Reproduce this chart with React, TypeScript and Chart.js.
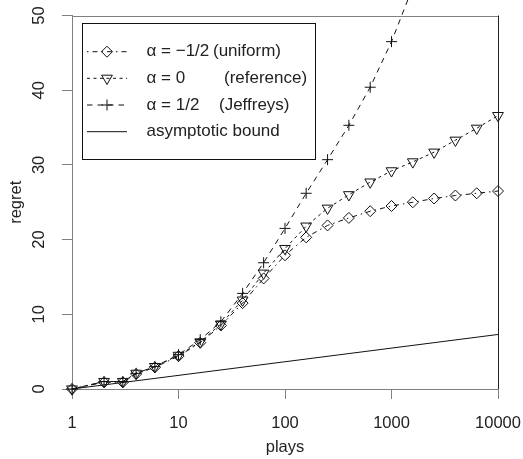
import React, { useEffect, useRef } from 'react';
import { Chart, registerables } from 'chart.js';

Chart.register(...registerables);

const plays = [1, 2, 3, 4, 6, 10, 16, 25, 40, 63, 100, 158, 251, 398, 631, 1000, 1585, 2512, 3981, 6310, 10000];
const regretUniform = [0, 0.9, 0.9, 2.0, 2.9, 4.4, 6.2, 8.5, 11.5, 14.8, 17.9, 20.3, 21.9, 22.9, 23.8, 24.5, 25.0, 25.5, 25.9, 26.2, 26.5];
const regretReference = [0, 1.0, 1.0, 2.1, 3.0, 4.5, 6.3, 8.7, 11.9, 15.5, 18.8, 21.8, 24.2, 26.0, 27.7, 29.2, 30.4, 31.7, 33.3, 34.9, 36.6];
const regretJeffreys = [0, 1.0, 1.0, 2.1, 3.0, 4.6, 6.6, 9.0, 12.8, 16.9, 21.5, 26.2, 30.7, 35.3, 40.4, 46.5, 53.8, 61.5, 69.5, 78.0, 86.0];
const boundPlays = [1, 10000];
const boundRegret = [0, 7.3];

const xTicks = [1, 10, 100, 1000, 10000];
const xTickLabels = ['1', '10', '100', '1000', '10000'];
const yTicks = [0, 10, 20, 30, 40, 50];
const yTickLabels = ['0', '10', '20', '30', '40', '50'];

const legendExpr = ['α = −1/2', 'α = 0', 'α = 1/2', 'asymptotic bound'];
const legendNote = ['(uniform)', '(reference)', '(Jeffreys)', ''];

const FONT = '"Liberation Sans", Arial, Helvetica, sans-serif';
const AXIS_GRAY = '#808080';
const TEXT = '#222';
const INK = '#111';

const DASH_UNIFORM = [1.5, 4, 5, 4];
const DASH_REFERENCE = [3, 3.5];
const DASH_JEFFREYS = [5.5, 5];

function drawMarker(ctx: CanvasRenderingContext2D, kind: string, x: number, y: number) {
  ctx.beginPath();
  if (kind === 'diamond') {
    const r = 5.5;
    ctx.moveTo(x - r, y);
    ctx.lineTo(x, y - r);
    ctx.lineTo(x + r, y);
    ctx.lineTo(x, y + r);
    ctx.closePath();
  } else if (kind === 'tri') {
    const r = 6.2;
    ctx.moveTo(x, y + r);
    ctx.lineTo(x + r * Math.sin(Math.PI * 2 / 3), y - r / 2);
    ctx.lineTo(x - r * Math.sin(Math.PI * 2 / 3), y - r / 2);
    ctx.closePath();
  } else if (kind === 'plus') {
    const r = 5.5;
    ctx.moveTo(x - r, y);
    ctx.lineTo(x + r, y);
    ctx.moveTo(x, y - r);
    ctx.lineTo(x, y + r);
  }
  ctx.stroke();
}

const decorPlugin = {
  id: 'decor',
  afterDraw(chart: any) {
    const ctx: CanvasRenderingContext2D = chart.ctx;
    const { left, right, top, bottom } = chart.chartArea;
    const xs = chart.scales.x;
    const ys = chart.scales.y;
    ctx.save();
    ctx.setLineDash([]);
    ctx.lineWidth = 1;
    // box top (gray) and right (dark)
    ctx.strokeStyle = AXIS_GRAY;
    ctx.beginPath();
    ctx.moveTo(left, Math.round(top) + 0.5);
    ctx.lineTo(right, Math.round(top) + 0.5);
    ctx.stroke();
    ctx.strokeStyle = '#222';
    ctx.beginPath();
    ctx.moveTo(Math.round(right) + 0.5, top);
    ctx.lineTo(Math.round(right) + 0.5, bottom);
    ctx.stroke();

    // tick labels
    ctx.fillStyle = TEXT;
    ctx.font = `16.5px ${FONT}`;
    ctx.textAlign = 'center';
    ctx.textBaseline = 'middle';
    xTicks.forEach((v, i) => {
      ctx.fillText(xTickLabels[i], xs.getPixelForValue(v), 423);
    });
    yTicks.forEach((v, i) => {
      ctx.save();
      ctx.translate(39, ys.getPixelForValue(v));
      ctx.rotate(-Math.PI / 2);
      ctx.fillText(yTickLabels[i], 0, 0);
      ctx.restore();
    });
    // axis titles
    ctx.fillText('plays', (left + right) / 2, 447);
    ctx.save();
    ctx.translate(16, (top + bottom) / 2);
    ctx.rotate(-Math.PI / 2);
    ctx.fillText('regret', 0, 0);
    ctx.restore();

    // legend
    const bx = 82.5, by = 23.5, bw = 233, bh = 136;
    ctx.fillStyle = '#fff';
    ctx.fillRect(bx, by, bw, bh);
    ctx.strokeStyle = '#111';
    ctx.strokeRect(bx, by, bw, bh);
    ctx.font = `17px ${FONT}`;
    const rows = [51.7, 78.3, 105, 131.7];
    const dashes = [DASH_UNIFORM, DASH_REFERENCE, DASH_JEFFREYS, []];
    const markers = ['diamond', 'tri', 'plus', ''];
    const noteX = [213, 224, 219, 0];
    rows.forEach((ry, i) => {
      ctx.strokeStyle = INK;
      ctx.setLineDash(dashes[i]);
      ctx.beginPath();
      ctx.moveTo(87, ry);
      ctx.lineTo(127, ry);
      ctx.stroke();
      ctx.setLineDash([]);
      if (markers[i]) drawMarker(ctx, markers[i], 107, ry);
      ctx.fillStyle = TEXT;
      ctx.textAlign = 'left';
      ctx.fillText(legendExpr[i], 146.5, ry);
      if (legendNote[i]) ctx.fillText(legendNote[i], noteX[i], ry);
    });
    ctx.restore();
  },
};

export default function App() {
  const ref = useRef<HTMLCanvasElement>(null);
  useEffect(() => {
    document.body.style.margin = '0';
    const toXY = (xsArr: number[], ysArr: number[]) => xsArr.map((x, i) => ({ x, y: ysArr[i] }));
    const gridOpts = {
      display: true,
      drawOnChartArea: false,
      drawTicks: true,
      tickLength: 10,
      color: AXIS_GRAY,
      lineWidth: 1,
    };
    const chart = new Chart(ref.current as HTMLCanvasElement, {
      type: 'line',
      data: {
        datasets: [
          {
            label: 'bound',
            data: toXY(boundPlays, boundRegret),
            borderColor: INK,
            borderWidth: 1,
            pointRadius: 0,
            fill: false,
            clip: false as any,
          },
          {
            label: 'uniform',
            data: toXY(plays, regretUniform),
            borderColor: INK,
            borderWidth: 1,
            borderDash: DASH_UNIFORM,
            pointStyle: 'rectRot',
            pointRadius: 5.5,
            pointBorderWidth: 1,
            pointBorderColor: INK,
            pointBackgroundColor: 'rgba(0,0,0,0)',
            fill: false,
            clip: false as any,
          },
          {
            label: 'reference',
            data: toXY(plays, regretReference),
            borderColor: INK,
            borderWidth: 1,
            borderDash: DASH_REFERENCE,
            pointStyle: 'triangle',
            pointRotation: 180,
            pointRadius: 6.2,
            pointBorderWidth: 1,
            pointBorderColor: INK,
            pointBackgroundColor: 'rgba(0,0,0,0)',
            fill: false,
            clip: false as any,
          },
          {
            label: 'jeffreys',
            data: toXY(plays, regretJeffreys),
            borderColor: INK,
            borderWidth: 1,
            borderDash: DASH_JEFFREYS,
            pointStyle: 'cross',
            pointRadius: 5.5,
            pointBorderWidth: 1,
            pointBorderColor: INK,
            pointBackgroundColor: 'rgba(0,0,0,0)',
            fill: false,
            clip: false as any,
          },
        ],
      },
      options: {
        responsive: false,
        animation: false,
        devicePixelRatio: 1,
        layout: { padding: { top: 15.5, right: 25, left: 0, bottom: 0 } },
        plugins: { legend: { display: false }, tooltip: { enabled: false } },
        elements: { line: { tension: 0 } },
        scales: {
          x: {
            type: 'logarithmic',
            min: 1,
            max: 10000,
            afterBuildTicks: (s: any) => {
              s.ticks = xTicks.map((v) => ({ value: v }));
            },
            afterFit: (s: any) => {
              s.height = 70;
            },
            ticks: { display: false },
            grid: gridOpts as any,
            border: { display: true, color: AXIS_GRAY, width: 1 },
          },
          y: {
            type: 'linear',
            min: 0,
            max: 50,
            afterBuildTicks: (s: any) => {
              s.ticks = yTicks.map((v) => ({ value: v }));
            },
            afterFit: (s: any) => {
              s.width = 72;
            },
            ticks: { display: false },
            grid: gridOpts as any,
            border: { display: true, color: AXIS_GRAY, width: 1 },
          },
        },
      },
      plugins: [decorPlugin],
    });
    return () => chart.destroy();
  }, []);
  return <canvas ref={ref} width={523} height={459} style={{ display: 'block' }} />;
}
